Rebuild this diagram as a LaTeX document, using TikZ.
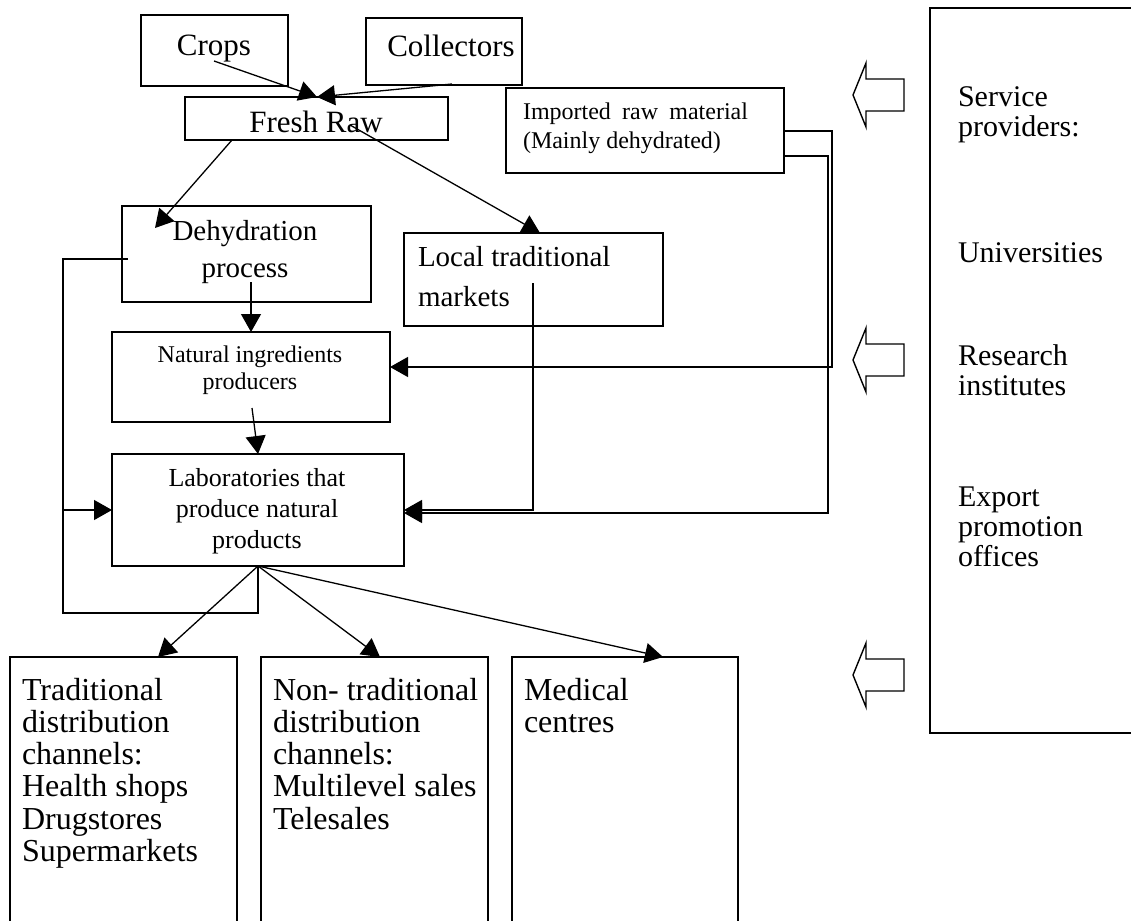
\documentclass[tikz,border=0pt]{standalone}
\usepackage{fontspec}
\setmainfont{Liberation Serif}
\usetikzlibrary{arrows.meta}
\newcommand\fs[2]{\fontsize{#1}{#2}\selectfont}
\begin{document}
\begin{tikzpicture}[x=1pt,y=-1pt,
  box/.style={draw, line width=1.4pt, inner sep=0pt, outer sep=0pt},
  conn/.style={line width=1.3pt},
  arr/.style={conn, -{Triangle[length=18pt,width=20pt]}},
  hollow/.style={draw, line width=1.4pt, line join=miter},
  lbl/.style={inner sep=0pt, outer sep=0pt},
]
\path[use as bounding box] (0,0) rectangle (1131,920);

% boxes
\node[box, minimum width=147pt, minimum height=71pt] (crops) at (214.5,50.5) {};
\node[box, minimum width=156pt, minimum height=67pt] (coll) at (444,51.5) {};
\node[box, minimum width=263pt, minimum height=43pt] (fresh) at (316.5,118.5) {};
\node[box, minimum width=278pt, minimum height=85pt] (imp) at (645,130.5) {};
\node[box, minimum width=249pt, minimum height=96pt] (dehy) at (246.5,254) {};
\node[box, minimum width=259pt, minimum height=93pt] (mkt) at (533.5,279.5) {};
\node[box, minimum width=278pt, minimum height=90pt] (nat) at (251,377) {};
\node[box, minimum width=292pt, minimum height=112pt] (lab) at (258,510) {};

% open boxes at the bottom and right
\draw[line width=1.4pt] (10,921) -- (10,657) coordinate (trad) -- (237,657) -- (237,921);
\draw[line width=1.4pt] (261,921) -- (261,657) coordinate (nontrad) -- (488,657) -- (488,921);
\draw[line width=1.4pt] (512,921) -- (512,657) coordinate (med) -- (738,657) -- (738,921);
\draw[line width=1.4pt] (1132,8) -- (930,8) coordinate (serv) -- (930,733) -- (1132,733);

% texts
\node[lbl, anchor=base] (tcrops) at (214,56) {\fs{31}{31}Crops};
\node[lbl, anchor=base] (tcoll) at (451,57) {\fs{31}{31}Collectors};
\node[lbl, anchor=base] (tfresh) at (316,133) {\fs{31}{31}Fresh Raw};
\node[lbl, anchor=base west] (timp) at (523,120) {\parbox[t]{240pt}{\fs{24}{28.5}\makebox[225pt][s]{Imported raw material}\\(Mainly dehydrated)}};
\node[lbl, anchor=base] (tdehy) at (245,240) {\parbox[t]{220pt}{\centering\fs{29}{37}Dehydration\\process}};
\node[lbl, anchor=base west] (tmkt) at (418,266) {\parbox[t]{240pt}{\fs{29}{40}Local traditional\\markets}};
\node[lbl, anchor=base] (tnat) at (250,362) {\parbox[t]{260pt}{\centering\fs{24}{27}Natural ingredients\\producers}};
\node[lbl, anchor=base] (tlab) at (257,486) {\parbox[t]{280pt}{\centering\fs{26}{31}Laboratories that\\produce natural\\products}};
\node[lbl, anchor=base west] (ttrad) at (22,700) {\parbox[t]{220pt}{\fs{32}{32.3}Traditional\\distribution\\channels:\\Health shops\\Drugstores\\Supermarkets}};
\node[lbl, anchor=base west] (tnon) at (273,700) {\parbox[t]{220pt}{\fs{32}{32.3}Non- traditional\\distribution\\channels:\\Multilevel sales\\Telesales}};
\node[lbl, anchor=base west] (tmed) at (524,700) {\parbox[t]{220pt}{\fs{32}{32.3}Medical\\centres}};
\node[lbl, anchor=base west] (tserv) at (958,107) {\parbox[t]{170pt}{\fs{30}{30}Service\\providers:}};
\node[lbl, anchor=base west] (tuni) at (958,262) {\fs{30}{30}Universities};
\node[lbl, anchor=base west] (tres) at (958,365) {\parbox[t]{170pt}{\fs{30}{30}Research\\institutes}};
\node[lbl, anchor=base west] (texp) at (958,506) {\parbox[t]{170pt}{\fs{30}{30}Export\\promotion\\offices}};

% hollow arrows
\foreach \c/\n in {95/ha, 360/hb, 675/hc}{
  \draw[hollow] (853,\c) coordinate (\n) -- (866,\c-32) -- (866,\c-16) -- (904,\c-16)
    -- (904,\c+16) -- (866,\c+16) -- (866,\c+32) -- cycle;
}

% connector coordinates
\coordinate (crS) at (214,61);
\coordinate (coS) at (452,84);
\coordinate (frT) at (317,97);
\coordinate (frA) at (232,140);
\coordinate (dhT) at (155,228);
\coordinate (frB) at (350,125);
\coordinate (mkT) at (540,233);
\coordinate (dhB) at (251,282);
\coordinate (ntT) at (251,332);
\coordinate (ntB) at (252,408);
\coordinate (lbT) at (258,454);
\coordinate (imA) at (784,131);
\coordinate (imB) at (784,156);
\coordinate (ntE) at (390,367);
\coordinate (lbE1) at (404,510);
\coordinate (lbE2) at (404,513);
\coordinate (mkS) at (533,283);
\coordinate (dhL) at (128,259);
\coordinate (lbW) at (112,510);
\coordinate (lbB) at (258,566);
\coordinate (trT) at (158,657);
\coordinate (ntrT) at (380,657);
\coordinate (mdT) at (663,657);

\draw[arr] (crS) -- (frT);
\draw[arr] (coS) -- (frT);
\draw[arr] (frA) -- (dhT);
\draw[arr] (frB) -- (mkT);
\draw[arr] (dhB) -- (ntT);
\draw[arr] (ntB) -- (lbT);
\draw[arr] (imA) -- (832,131) -- (832,367) -- (ntE);
\draw[arr] (imB) -- (828,156) -- (828,513) -- (lbE2);
\draw[arr] (mkS) -- (533,510) -- (lbE1);
\draw[conn] (dhL) -- (63,259) -- (63,613) -- (258,613) -- (lbB);
\draw[arr] (63,510) -- (lbW);
\draw[arr] (lbB) -- (trT);
\draw[arr] (lbB) -- (ntrT);
\draw[arr] (lbB) -- (mdT);
\end{tikzpicture}
\end{document}
